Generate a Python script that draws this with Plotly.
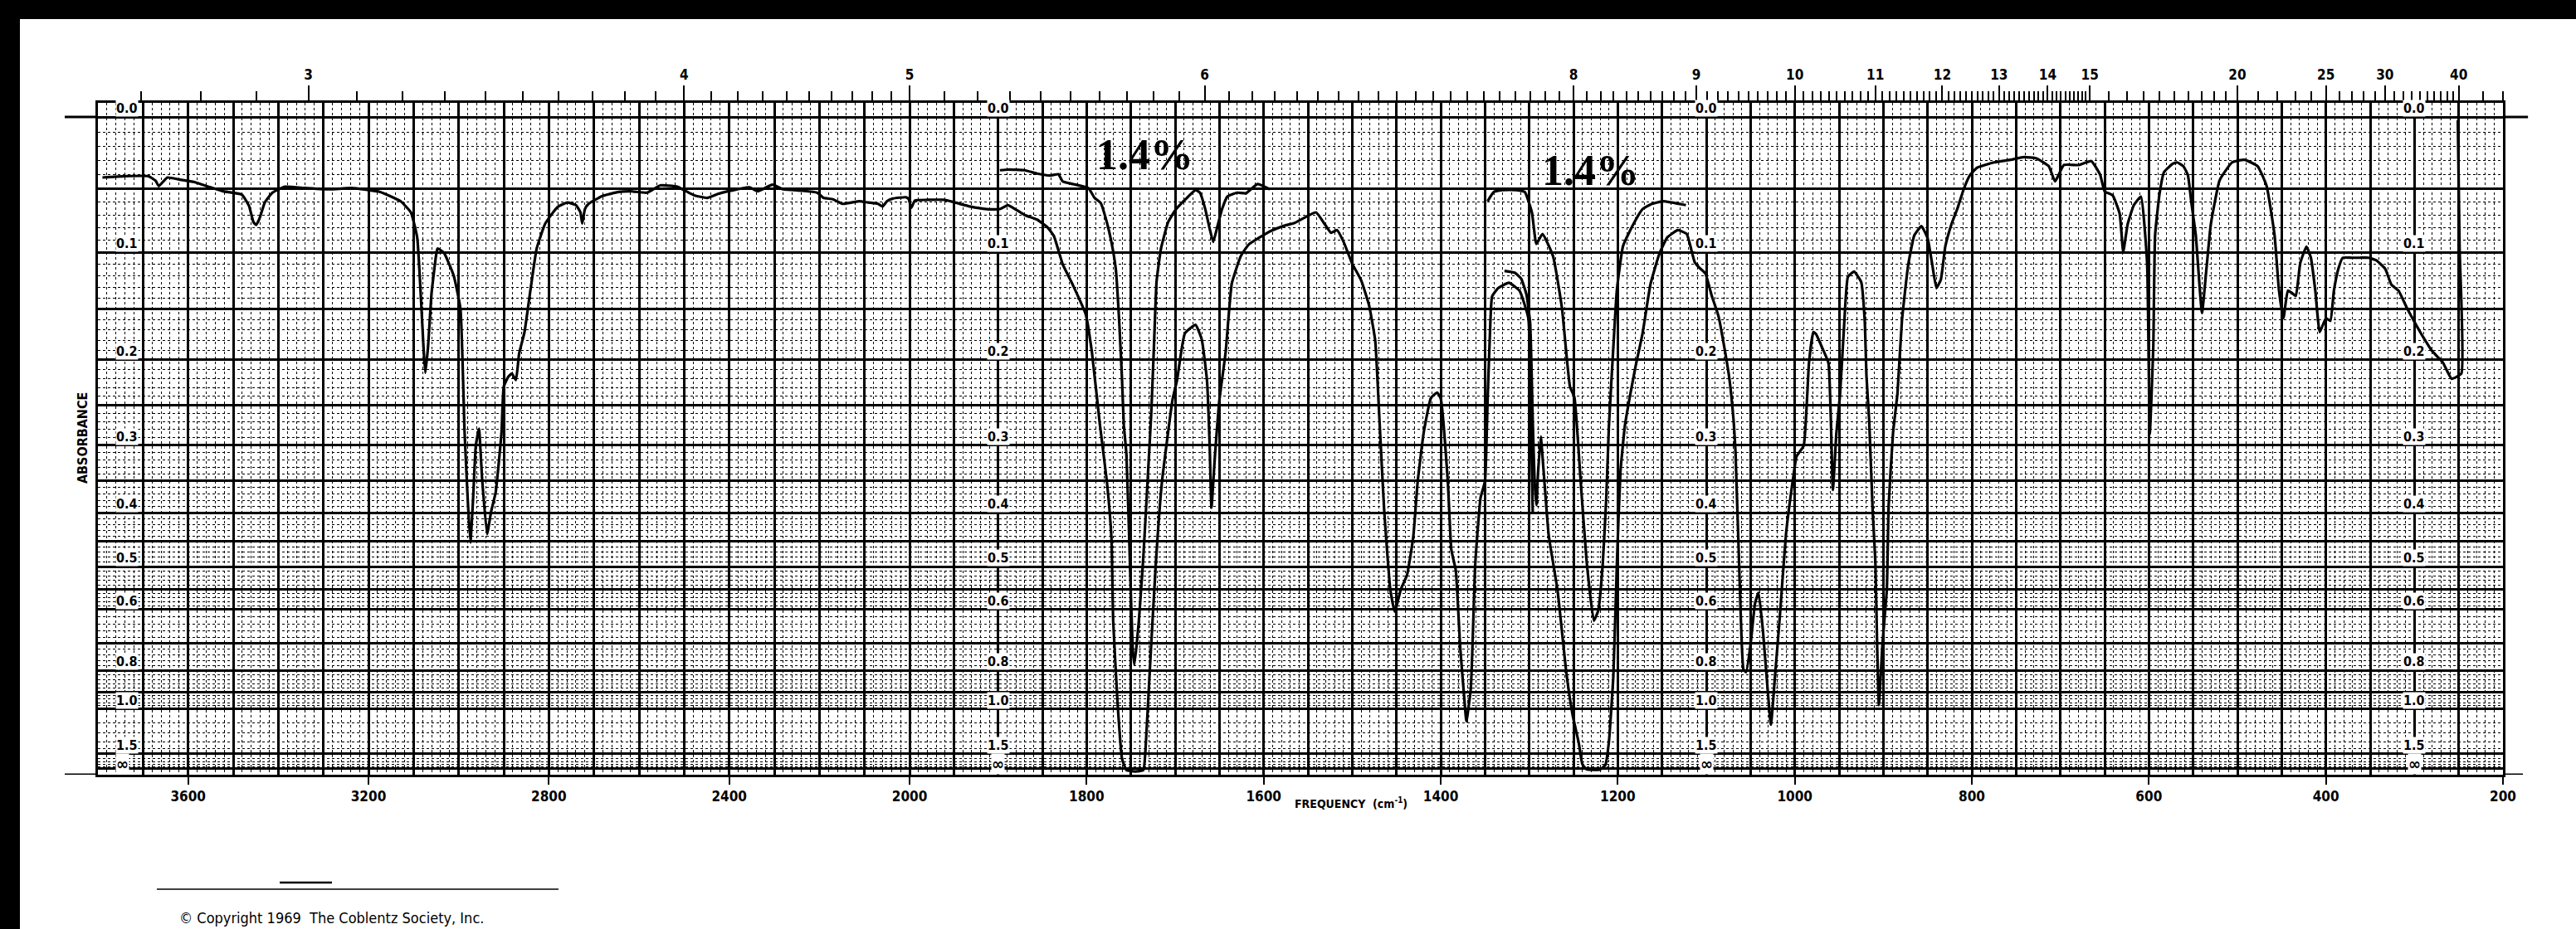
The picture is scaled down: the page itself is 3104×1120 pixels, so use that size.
import numpy as np
import plotly.graph_objects as go

# ---------------- data ----------------
# main trace, 10% solution region 3800-1300 cm-1
ccl4_wn = [3790, 3740, 3688, 3672, 3665, 3646, 3620, 3586, 3550, 3522,
           3481, 3465, 3455, 3449, 3442, 3430, 3413, 3385, 3340, 3284,
           3238, 3174, 3129, 3106, 3092, 3083, 3078, 3074, 3068, 3060,
           3050, 3047, 3033, 3011, 2996, 2987, 2980, 2974, 2968, 2962,
           2955, 2948, 2937, 2928, 2918, 2905, 2900, 2890, 2882, 2873,
           2866, 2854, 2841, 2827, 2808, 2781, 2759, 2740, 2730, 2726,
           2720, 2712, 2681, 2645, 2618, 2582, 2553, 2515, 2490, 2478,
           2449, 2425, 2403, 2355, 2337, 2304, 2280, 2240, 2205, 2191,
           2170, 2149, 2111, 2092, 2070, 2060, 2050, 2037, 2008, 2002,
           1998, 1994, 1980, 1961, 1932, 1913, 1898, 1889, 1870, 1856,
           1844, 1837, 1827, 1815, 1801, 1794, 1785, 1777, 1772, 1770,
           1765, 1760, 1755, 1745, 1736, 1733, 1729, 1722, 1715, 1703,
           1698, 1689, 1677, 1670, 1664, 1661, 1659, 1655, 1650, 1643,
           1636, 1626, 1617, 1602, 1593, 1576, 1565, 1541, 1531, 1524,
           1517, 1510, 1500, 1490, 1481, 1474, 1469, 1464, 1457, 1452,
           1445, 1438, 1431, 1426, 1419, 1411, 1404, 1400, 1392, 1388,
           1383, 1378, 1373, 1371, 1366, 1361, 1355, 1350, 1347, 1344,
           1342, 1335, 1323, 1311, 1301, 1298, 1296]
ccl4_T = [90.8, 91.0, 91.0, 90.3, 89.5, 90.8, 90.5, 90.1, 89.3, 88.7,
          88.2, 86.5, 84.0, 83.6, 84.5, 87.0, 88.5, 89.4, 89.2, 89.0,
          89.2, 88.6, 87.2, 85.5, 81.7, 71.6, 65.0, 61.1, 65.0, 73.3,
          79.0, 80.0, 79.4, 75.9, 70.8, 52.3, 42.0, 35.3, 42.0, 50.0,
          52.6, 45.0, 36.6, 40.0, 42.9, 52.0, 59.0, 60.5, 61.0, 60.0,
          64.0, 67.3, 73.6, 80.0, 83.8, 86.3, 87.0, 86.6, 85.5, 83.8,
          86.0, 86.8, 88.0, 88.6, 88.7, 88.5, 89.6, 89.4, 88.5, 88.1,
          87.7, 88.3, 88.7, 89.3, 88.7, 89.7, 89.0, 88.8, 88.5, 87.7,
          87.5, 86.8, 87.2, 87.0, 86.8, 86.4, 87.2, 87.6, 87.8, 87.5,
          86.2, 87.3, 87.4, 87.4, 86.4, 86.0, 86.0, 86.6, 85.1, 84.4,
          83.2, 81.9, 77.6, 74.3, 70.0, 64.2, 53.2, 44.4, 36.0, 23.4,
          10.8, 2.4, 0.7, 0.5, 0.7, 5.0, 15.0, 31.8, 44.4, 57.0,
          59.9, 67.1, 68.4, 66.2, 59.9, 50.0, 40.6, 48.6, 57.0, 64.2,
          74.7, 78.8, 80.6, 81.9, 82.6, 83.5, 83.9, 85.5, 83.7, 82.4,
          82.8, 81.1, 77.7, 75.2, 71.4, 66.0, 53.4, 40.5, 28.2, 24.8,
          28.2, 30.4, 36.2, 44.6, 52.2, 57.3, 58.1, 57.2, 44.6, 34.2,
          31.1, 19.4, 11.0, 8.1, 13.1, 32.0, 42.1, 44.6, 57.2, 68.5,
          72.7, 74.0, 74.8, 73.6, 69.4, 53.4, 39.6]

# 1.4 % solution, carbonyl region
dil1_wn = [1898, 1889, 1870, 1856, 1841, 1832, 1827, 1815, 1798, 1791,
           1784, 1777, 1772, 1767, 1763, 1760, 1758, 1755, 1751, 1748,
           1746, 1741, 1736, 1731, 1727, 1724, 1721, 1716, 1708, 1700,
           1689, 1677, 1672, 1666, 1661, 1657, 1652, 1647, 1641, 1630,
           1620, 1607, 1593]
dil1_T = [91.9, 92.0, 91.9, 91.4, 91.1, 91.3, 90.2, 89.8, 89.2, 87.7,
          86.9, 83.9, 81.0, 76.8, 68.4, 60.0, 53.2, 48.6, 31.8, 19.2,
          16.7, 23.4, 33.0, 45.0, 55.0, 65.0, 75.0, 80.0, 84.0, 85.8,
          87.4, 88.9, 88.5, 86.0, 83.0, 81.0, 83.5, 86.0, 87.9, 88.5,
          88.4, 89.8, 89.0]

# 1.4 % solution, C-O region
dil2_wn = [1347, 1340, 1330, 1315, 1305, 1297, 1292, 1285, 1273, 1263,
           1254, 1249, 1242, 1235, 1227, 1222, 1217, 1213, 1210, 1205,
           1201, 1194, 1182, 1172, 1163, 1149, 1123]
dil2_T = [87.2, 88.6, 88.9, 88.9, 88.6, 85.5, 80.7, 82.2, 78.8, 70.9,
          59.0, 57.4, 44.8, 32.2, 23.4, 25.0, 32.0, 42.0, 53.0, 65.0,
          73.7, 80.4, 83.8, 86.0, 86.7, 87.2, 86.6]

# main trace, second solvent region 1330-250 cm-1
cs2_wn = [1328, 1316, 1309, 1303, 1299, 1296, 1294, 1292, 1290, 1287,
          1283, 1278, 1268, 1258, 1251, 1244, 1240, 1235, 1220, 1214,
          1210, 1205, 1201, 1197, 1192, 1187, 1180, 1172, 1163, 1153,
          1144, 1132, 1122, 1118, 1113, 1108, 1101, 1094, 1086, 1079,
          1074, 1069, 1067, 1062, 1058, 1055, 1050, 1045, 1041, 1036,
          1031, 1027, 1022, 1017, 1010, 1002, 998, 990, 986, 984,
          979, 976, 970, 962, 957, 953, 949, 944, 940, 933,
          925, 921, 919, 916, 912, 909, 907, 905, 901, 896,
          894, 889, 884, 879, 872, 865, 857, 850, 845, 840,
          835, 830, 823, 816, 809, 802, 794, 775, 756, 741,
          727, 713, 706, 696, 679, 665, 655, 650, 641, 633,
          629, 624, 617, 609, 602, 599, 595, 593, 588, 583,
          573, 568, 561, 556, 552, 547, 540, 535, 530, 520,
          506, 492, 477, 467, 458, 453, 448, 443, 438, 434,
          429, 422, 417, 412, 407, 400, 395, 391, 386, 381,
          371, 362, 352, 343, 333, 326, 318, 309, 299, 290,
          280, 268, 258, 247, 249, 251]
cs2_T = [76.6, 76.3, 75.4, 72.9, 68.7, 53.6, 44.8, 41.0, 46.0, 51.4,
         44.8, 36.4, 28.0, 15.4, 9.1, 4.8, 1.6, 0.8, 0.8, 1.5,
         5.0, 15.0, 32.0, 46.0, 53.0, 57.0, 62.0, 67.1, 74.6, 79.2,
         81.7, 82.8, 82.2, 80.4, 77.9, 77.1, 76.2, 72.9, 69.6, 64.5,
         60.3, 53.6, 49.1, 28.2, 16.0, 15.6, 19.8, 26.0, 27.7, 21.9,
         13.5, 7.6, 15.6, 23.9, 36.5, 45.0, 48.4, 50.0, 57.6, 62.6,
         67.3, 67.0, 65.2, 62.6, 43.3, 52.0, 57.6, 69.0, 75.7, 76.5,
         74.9, 69.0, 60.5, 53.9, 40.0, 32.4, 19.8, 10.6, 19.8, 28.3,
         40.9, 52.0, 58.0, 69.0, 77.4, 82.0, 83.4, 81.6, 77.8, 74.0,
         75.3, 80.3, 83.7, 86.2, 89.1, 91.2, 92.3, 93.1, 93.5, 93.9,
         93.7, 92.5, 90.2, 92.7, 92.7, 93.3, 91.2, 88.7, 88.1, 85.3,
         79.5, 83.7, 86.6, 87.9, 77.8, 51.8, 65.2, 82.0, 88.3, 91.6,
         92.9, 93.1, 92.5, 91.2, 87.0, 82.0, 70.2, 76.9, 83.7, 90.4,
         93.1, 93.5, 92.5, 89.5, 82.0, 73.6, 69.4, 73.6, 73.2, 72.8,
         77.8, 80.3, 78.6, 73.6, 67.3, 69.4, 69.0, 73.6, 76.9, 78.6,
         78.6, 78.6, 78.6, 78.2, 76.9, 74.5, 73.6, 71.1, 68.6, 66.5,
         64.4, 62.7, 60.2, 61.0, 80.0, 99.5]

# axis labels
bottom_ticks_wn = [3600, 3200, 2800, 2400, 2000, 1800, 1600, 1400, 1200, 1000, 800, 600, 400, 200]
top_ticks_um = [3, 4, 5, 6, 8, 9, 10, 11, 12, 13, 14, 15, 20, 25, 30, 40]
absorbance_labels = ["0.0", "0.1", "0.2", "0.3", "0.4", "0.5", "0.6", "0.8", "1.0", "1.5"]
label_columns_wn = [1900, 1100, 300]
conc_labels = ["1.4%", "1.4%"]
conc_label_wn = [1734, 1231]
conc_label_T = [94.3, 91.9]

for a, b in [(ccl4_wn, ccl4_T), (dil1_wn, dil1_T), (dil2_wn, dil2_T), (cs2_wn, cs2_T)]:
    assert len(a) == len(b)

# ---------------- scales ----------------
K = 0.5094  # chart paper compresses the 3800-2000 cm-1 half


def pos(f):
    f = float(f)
    return (2000.0 - f) if f <= 2000 else (2000.0 - f) * K


X_RANGE = [pos(3800), pos(200)]
T_TOP = 102.15


def T_of_A(a):
    return 100.0 * 10 ** (-a)


COND = "DejaVu Sans Condensed, Liberation Sans Narrow, DejaVu Sans, sans-serif"
SERIF = "Liberation Serif, DejaVu Serif, serif"

# grid definitions
maj_v = list(range(3800, 2000, -100)) + list(range(2000, 199, -50))
min_v = [f for f in range(3780, 2000, -20) if f % 100] + [f for f in range(1990, 200, -10) if f % 50]
maj_A = [round(0.05 * i, 2) for i in range(13)] + [0.7, 0.8, 0.9, 1.0, 1.5, 2.0]
min_A = ([round(0.01 * i, 2) for i in range(1, 60) if i % 5]
         + [round(0.6 + 0.02 * i, 2) for i in range(1, 20) if i % 5]
         + [round(1.0 + 0.1 * i, 2) for i in range(1, 10) if i != 5])

um_minor = []
for u in np.round(np.arange(2.7, 15.0, 0.1), 1):
    if u not in top_ticks_um:
        um_minor.append(float(u))
um_minor += [15.5, 16, 16.5, 17, 17.5, 18, 18.5, 19, 19.5]
um_minor += [u for u in range(21, 40) if u not in top_ticks_um] + [45, 50]

# ---------------- figure ----------------
fig = go.Figure()
for wn, T in [(ccl4_wn, ccl4_T), (dil1_wn, dil1_T), (dil2_wn, dil2_T), (cs2_wn, cs2_T)]:
    fig.add_trace(go.Scatter(x=[pos(f) for f in wn], y=T, mode="lines",
                             line=dict(color="black", width=3.2, shape="spline", smoothing=0.4),
                             hoverinfo="skip", showlegend=False))
# empty traces so that the wavelength axis and the paper grid axis are drawn
for ax in ["x2", "x3"]:
    fig.add_trace(go.Scatter(x=[], y=[], xaxis=ax, yaxis="y", mode="lines",
                             hoverinfo="skip", showlegend=False))

tickfont = dict(family=COND, size=17, color="black", weight="bold")

fig.update_layout(
    width=3104, height=1120,
    margin=dict(l=118, r=88, t=124, b=186, autoexpand=False),
    paper_bgcolor="white", plot_bgcolor="white",
    xaxis=dict(range=X_RANGE, tickmode="array",
               tickvals=[pos(f) for f in bottom_ticks_wn],
               ticktext=[str(f) for f in bottom_ticks_wn],
               ticks="outside", ticklen=9, tickwidth=2, tickcolor="black",
               showline=True, linewidth=3, linecolor="black",
               showgrid=False, zeroline=False, tickfont=tickfont),
    xaxis2=dict(overlaying="x", side="top", anchor="y", range=X_RANGE,
                tickmode="array",
                tickvals=[pos(1e4 / u) for u in top_ticks_um],
                ticktext=[str(u) for u in top_ticks_um],
                ticks="outside", ticklen=18, tickwidth=2, tickcolor="black",
                showline=True, linewidth=3, linecolor="black",
                showgrid=False, zeroline=False, tickfont=tickfont,
                minor=dict(tickmode="array", tickvals=[pos(1e4 / u) for u in um_minor],
                           ticks="outside", ticklen=11, tickwidth=1.5,
                           tickcolor="black", showgrid=False)),
    xaxis3=dict(overlaying="x", anchor="y", range=X_RANGE,
                showline=False, showticklabels=False, ticks="", zeroline=False,
                tickmode="array", tickvals=[pos(f) for f in maj_v],
                showgrid=True, gridcolor="black", gridwidth=2.5,
                minor=dict(tickmode="array", tickvals=[pos(f) for f in min_v],
                           showgrid=True, gridcolor="black", gridwidth=1.2,
                           griddash="dot", ticks="")),
    yaxis=dict(range=[0, T_TOP], showline=True, linewidth=3, linecolor="black",
               mirror=True, ticks="", showticklabels=False, zeroline=False,
               tickmode="array", tickvals=[T_of_A(a) for a in maj_A],
               showgrid=True, gridcolor="black", gridwidth=2.5,
               minor=dict(tickmode="array", tickvals=[T_of_A(a) for a in min_A],
                          showgrid=True, gridcolor="black", gridwidth=1,
                          griddash="dot", ticks="")),
)

ann = []
lblfont = dict(family=COND, size=16, color="black", weight="bold")
# absorbance labels printed on the chart paper
cols = [(pos(3762), "left")] + [(pos(c), "center") for c in label_columns_wn]
for cx, anc in cols:
    for lbl in absorbance_labels:
        ann.append(dict(x=cx, y=T_of_A(float(lbl)), xref="x", yref="y", text=lbl,
                        showarrow=False, xanchor=anc, yanchor="bottom",
                        font=lblfont, bgcolor="white", borderpad=0))
    ann.append(dict(x=cx, y=0, xref="x", yref="y", text="\u221e",
                    showarrow=False, xanchor=anc, yanchor="bottom",
                    font=dict(family=COND, size=20, color="black", weight="bold"),
                    bgcolor="white", borderpad=0))
for t, w, tv in zip(conc_labels, conc_label_wn, conc_label_T):
    ann.append(dict(x=pos(w), y=tv, xref="x", yref="y", text=t, showarrow=False,
                    xanchor="center", yanchor="middle",
                    font=dict(family=SERIF, size=52, color="black", weight="bold")))
ann.append(dict(x=0.521, y=-0.042, xref="paper", yref="paper",
                text="FREQUENCY  (cm<sup>-1</sup>)", showarrow=False,
                xanchor="center", yanchor="middle",
                font=dict(family=COND, size=14, color="black", weight="bold")))
ann.append(dict(x=-0.0066, y=0.501, xref="paper", yref="paper", text="ABSORBANCE",
                textangle=-90, showarrow=False, xanchor="center", yanchor="middle",
                font=dict(family=COND, size=16, color="black", weight="bold")))
ann.append(dict(x=0.0331, y=-0.2284, xref="paper", yref="paper",
                text="\u00a9 Copyright 1969  The Coblentz Society, Inc.", showarrow=False,
                xanchor="left", yanchor="bottom",
                font=dict(family=COND, size=18, color="black")))
fig.update_layout(annotations=ann)

shapes = [
    # scan borders
    dict(type="rect", xref="paper", yref="paper", x0=-0.05, x1=1.05, y0=1.1247, y1=1.2,
         fillcolor="black", line=dict(width=0), layer="above"),
    dict(type="rect", xref="paper", yref="paper", x0=-0.05, x1=-0.03244, y0=-0.3, y1=1.2,
         fillcolor="black", line=dict(width=0), layer="above"),
    # 0.0 line and base line running past the frame
    dict(type="line", xref="paper", yref="y", x0=-0.0138, x1=0, y0=100, y1=100,
         line=dict(color="black", width=3)),
    dict(type="line", xref="paper", yref="y", x0=1, x1=1.0104, y0=100, y1=100,
         line=dict(color="black", width=3)),
    dict(type="line", xref="paper", yref="y", x0=-0.0138, x1=0, y0=0, y1=0,
         line=dict(color="black", width=3)),
    dict(type="line", xref="paper", yref="y", x0=1, x1=1.0083, y0=0, y1=0,
         line=dict(color="black", width=3)),
    # rules above the copyright line
    dict(type="line", xref="paper", yref="paper", x0=0.0245, x1=0.1915, y0=-0.1704, y1=-0.1704,
         line=dict(color="black", width=1.5)),
    dict(type="line", xref="paper", yref="paper", x0=0.0756, x1=0.0973, y0=-0.1605, y1=-0.1605,
         line=dict(color="black", width=2.5)),
]
fig.update_layout(shapes=shapes)

fig.write_html("out.html", config={"displayModeBar": False},
               post_script="document.body.style.margin='0';document.body.style.overflow='hidden';")
